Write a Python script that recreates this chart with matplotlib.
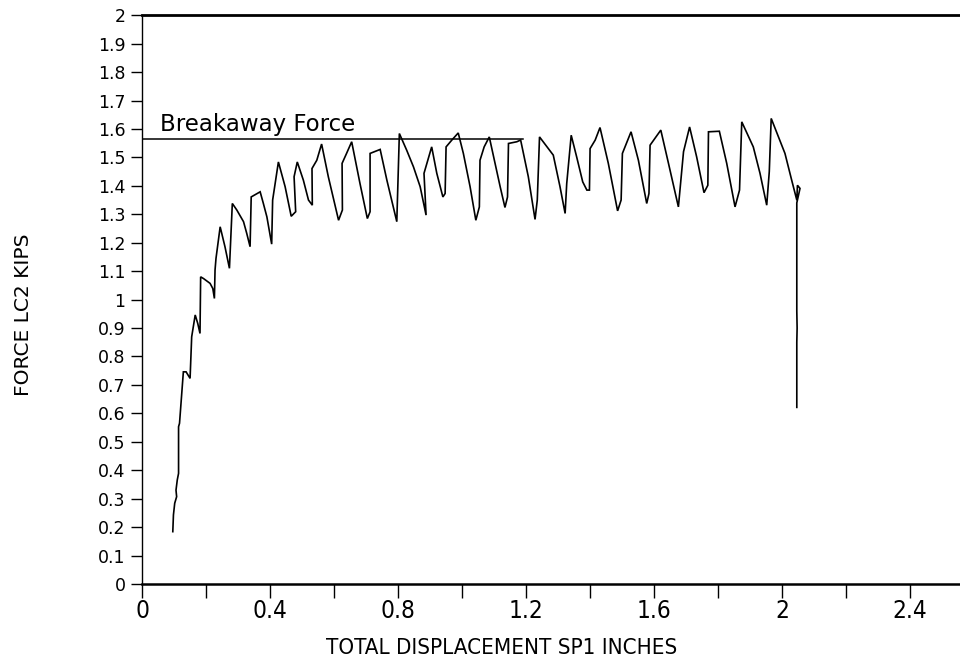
import matplotlib
matplotlib.use("Agg")
import matplotlib.pyplot as plt
from matplotlib.ticker import MultipleLocator, FixedLocator

# Displacement (in) and force (kips) trace of load cell LC2
disp = [0.096, 0.098, 0.102, 0.108, 0.106, 0.110, 0.114, 0.114, 0.117, 0.129,
        0.1375, 0.150, 0.155, 0.166, 0.174, 0.181, 0.183, 0.192, 0.2125, 0.221,
        0.226, 0.228, 0.231, 0.244, 0.259, 0.273, 0.282, 0.296, 0.317, 0.327,
        0.3375, 0.341, 0.369, 0.379, 0.390, 0.405, 0.408, 0.426, 0.447, 0.466,
        0.480, 0.475, 0.485, 0.504, 0.520, 0.532, 0.531, 0.546, 0.561, 0.582,
        0.614, 0.626, 0.625, 0.639, 0.655, 0.681, 0.704, 0.7125, 0.7125, 0.744,
        0.765, 0.796, 0.804, 0.827, 0.848, 0.869, 0.8875, 0.881, 0.905, 0.921,
        0.940, 0.947, 0.950, 0.968, 0.988, 1.004, 1.025, 1.043, 1.054, 1.056,
        1.069, 1.085, 1.103, 1.119, 1.134, 1.142, 1.145, 1.171, 1.183, 1.207,
        1.228, 1.235, 1.242, 1.285, 1.306, 1.322, 1.327, 1.341, 1.358, 1.377,
        1.390, 1.398, 1.400, 1.416, 1.431, 1.457, 1.486, 1.497, 1.501, 1.528,
        1.551, 1.577, 1.584, 1.5875, 1.621, 1.645, 1.676, 1.692, 1.711, 1.733,
        1.756, 1.768, 1.770, 1.804, 1.827, 1.853, 1.867, 1.874, 1.910, 1.931,
        1.952, 1.960, 1.966, 2.009, 2.030, 2.046, 2.048, 2.056, 2.050, 2.046,
        2.046, 2.047, 2.046, 2.046]
force = [0.184, 0.243, 0.284, 0.307, 0.330, 0.366, 0.389, 0.553, 0.565, 0.746,
         0.746, 0.723, 0.869, 0.946, 0.916, 0.881, 1.080, 1.074, 1.057, 1.039,
         1.004, 1.104, 1.145, 1.256, 1.186, 1.110, 1.338, 1.315, 1.274, 1.233,
         1.186, 1.361, 1.379, 1.338, 1.291, 1.195, 1.350, 1.484, 1.397, 1.293,
         1.309, 1.432, 1.484, 1.420, 1.350, 1.332, 1.461, 1.490, 1.547, 1.432,
         1.279, 1.315, 1.479, 1.514, 1.555, 1.408, 1.285, 1.309, 1.514, 1.528,
         1.420, 1.274, 1.584, 1.525, 1.467, 1.397, 1.297, 1.444, 1.537, 1.444,
         1.361, 1.373, 1.537, 1.561, 1.586, 1.514, 1.397, 1.279, 1.326, 1.490,
         1.537, 1.572, 1.479, 1.397, 1.324, 1.361, 1.549, 1.555, 1.561, 1.432,
         1.282, 1.350, 1.572, 1.508, 1.397, 1.303, 1.408, 1.578, 1.502, 1.414,
         1.385, 1.385, 1.531, 1.561, 1.605, 1.479, 1.312, 1.350, 1.514, 1.590,
         1.490, 1.338, 1.373, 1.543, 1.596, 1.479, 1.326, 1.520, 1.607, 1.502,
         1.376, 1.402, 1.590, 1.592, 1.479, 1.326, 1.385, 1.625, 1.537, 1.444,
         1.332, 1.450, 1.637, 1.514, 1.420, 1.350, 1.402, 1.391, 1.360, 1.340,
         0.960, 0.900, 0.850, 0.621]

# Breakaway force reference level
breakaway_force = 1.565
breakaway_span = [0.0, 1.19]

x_major = [0, 0.4, 0.8, 1.2, 1.6, 2, 2.4]
x_major_labels = ["0", "0.4", "0.8", "1.2", "1.6", "2", "2.4"]
y_ticks = [i / 10 for i in range(21)]
y_tick_labels = ["0", "0.1", "0.2", "0.3", "0.4", "0.5", "0.6", "0.7", "0.8", "0.9",
                 "1", "1.1", "1.2", "1.3", "1.4", "1.5", "1.6", "1.7", "1.8", "1.9", "2"]

plain = ["DejaVu Sans"]

fig = plt.figure(figsize=(9.6, 6.61), dpi=100)
ax = fig.add_axes([0.148, 0.1165, 0.852, 0.8605])

ax.plot(disp, force, color="black", lw=1.2, solid_joinstyle="miter")
ax.plot(breakaway_span, [breakaway_force, breakaway_force], color="black", lw=1.1)
ax.text(0.055, breakaway_force + 0.027, "Breakaway Force", fontsize=16.5,
        family=plain, color="black", va="baseline", ha="left")

ax.set_xlim(0, 2.556)
ax.set_ylim(0, 2.0)

ax.xaxis.set_major_locator(FixedLocator(x_major))
ax.set_xticklabels(x_major_labels, family=plain, fontstretch="condensed", fontsize=17.5)
ax.xaxis.set_minor_locator(MultipleLocator(0.2))
ax.set_yticks(y_ticks)
ax.set_yticklabels(y_tick_labels, family=plain, fontsize=12.5)

ax.tick_params(axis="x", which="both", direction="out", length=10, width=1.0, pad=0.5)
ax.tick_params(axis="y", direction="out", length=8, width=1.0, pad=4)

ax.spines["right"].set_visible(False)
ax.spines["top"].set_linewidth(2.0)
ax.spines["bottom"].set_linewidth(1.8)
ax.spines["left"].set_linewidth(1.0)

ax.set_xlabel("TOTAL DISPLACEMENT SP1 INCHES", family=plain, fontstretch="condensed",
              fontsize=16)
ax.xaxis.set_label_coords(0.44, -0.112)
ax.xaxis.label.set_va("center")
ax.set_ylabel("FORCE LC2 KIPS", family=plain, fontsize=14.5)
ax.yaxis.set_label_coords(-0.145, 0.473)
ax.yaxis.label.set_va("center")

fig.savefig("out.png", dpi=100, facecolor="white")
